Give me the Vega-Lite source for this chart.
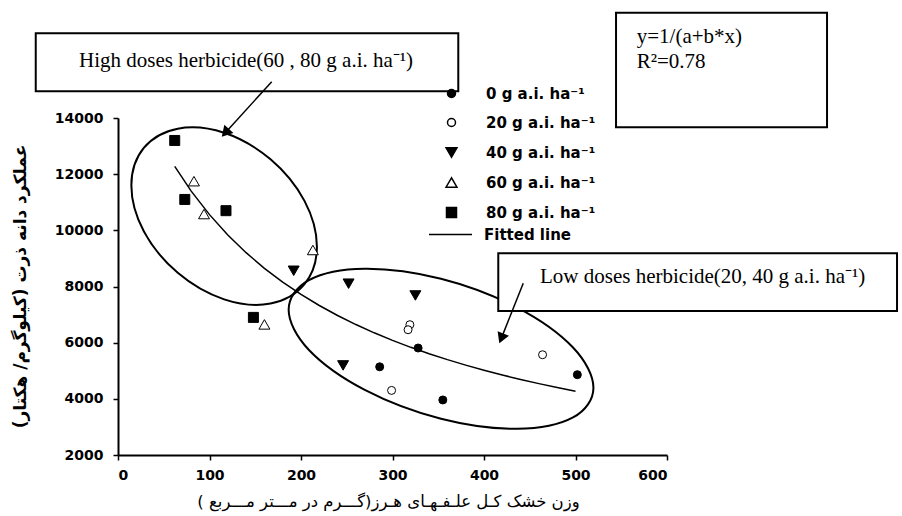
{
  "$schema": "https://vega.github.io/schema/vega-lite/v6.json",
  "width": 549,
  "height": 337,
  "autosize": {"type": "none"},
  "padding": {"left": 118, "top": 118, "right": 235, "bottom": 61},
  "background": "white",
  "config": {
    "view": {"stroke": null},
    "axis": {
      "grid": false,
      "domainColor": "black",
      "domainWidth": 2,
      "tickColor": "black",
      "tickWidth": 1.5,
      "tickSize": 5,
      "labelFont": "DejaVu Sans",
      "labelFontWeight": "bold",
      "labelFontSize": 14,
      "labelColor": "black",
      "titleColor": "black",
      "titleFont": "DejaVu Sans"
    },
    "legend": {
      "labelFont": "DejaVu Sans",
      "labelFontWeight": "bold",
      "labelFontSize": 15,
      "labelColor": "black"
    }
  },
  "datasets": {
    "pts": [
      {"dose": "0 g a.i. ha⁻¹", "weed": 328, "yield": 5810},
      {"dose": "0 g a.i. ha⁻¹", "weed": 286, "yield": 5140},
      {"dose": "0 g a.i. ha⁻¹", "weed": 355, "yield": 3960},
      {"dose": "0 g a.i. ha⁻¹", "weed": 502, "yield": 4860},
      {"dose": "20 g a.i. ha⁻¹", "weed": 319, "yield": 6640},
      {"dose": "20 g a.i. ha⁻¹", "weed": 317, "yield": 6460},
      {"dose": "20 g a.i. ha⁻¹", "weed": 299, "yield": 4300},
      {"dose": "20 g a.i. ha⁻¹", "weed": 464, "yield": 5570},
      {"dose": "40 g a.i. ha⁻¹", "weed": 192, "yield": 8560},
      {"dose": "40 g a.i. ha⁻¹", "weed": 252, "yield": 8100},
      {"dose": "40 g a.i. ha⁻¹", "weed": 325, "yield": 7680},
      {"dose": "40 g a.i. ha⁻¹", "weed": 246, "yield": 5190},
      {"dose": "60 g a.i. ha⁻¹", "weed": 83, "yield": 11750},
      {"dose": "60 g a.i. ha⁻¹", "weed": 94, "yield": 10580},
      {"dose": "60 g a.i. ha⁻¹", "weed": 213, "yield": 9300},
      {"dose": "60 g a.i. ha⁻¹", "weed": 160, "yield": 6650},
      {"dose": "80 g a.i. ha⁻¹", "weed": 62, "yield": 13200},
      {"dose": "80 g a.i. ha⁻¹", "weed": 73, "yield": 11100},
      {"dose": "80 g a.i. ha⁻¹", "weed": 118, "yield": 10700},
      {"dose": "80 g a.i. ha⁻¹", "weed": 148, "yield": 6900}
    ],
    "fit": [
      {"weed": 62, "yield": 12276}, {"weed": 80, "yield": 11397}, {"weed": 100, "yield": 10559},
      {"weed": 120, "yield": 9835}, {"weed": 140, "yield": 9204}, {"weed": 160, "yield": 8648},
      {"weed": 180, "yield": 8157}, {"weed": 200, "yield": 7718}, {"weed": 220, "yield": 7324},
      {"weed": 240, "yield": 6968}, {"weed": 260, "yield": 6645}, {"weed": 280, "yield": 6351},
      {"weed": 300, "yield": 6082}, {"weed": 320, "yield": 5834}, {"weed": 340, "yield": 5606},
      {"weed": 360, "yield": 5395}, {"weed": 380, "yield": 5200}, {"weed": 400, "yield": 5018},
      {"weed": 420, "yield": 4848}, {"weed": 440, "yield": 4690}, {"weed": 460, "yield": 4541},
      {"weed": 480, "yield": 4402}, {"weed": 500, "yield": 4271}
    ],
    "ellipses": [
      {"e": "high", "i": 0, "weed": 217.4, "yield": 9417},
      {"e": "high", "i": 1, "weed": 203.8, "yield": 8082},
      {"e": "high", "i": 2, "weed": 166.7, "yield": 7393},
      {"e": "high", "i": 3, "weed": 116.0, "yield": 7542},
      {"e": "high", "i": 4, "weed": 65.3, "yield": 8487},
      {"e": "high", "i": 5, "weed": 28.2, "yield": 9968},
      {"e": "high", "i": 6, "weed": 14.6, "yield": 11599},
      {"e": "high", "i": 7, "weed": 28.2, "yield": 12934},
      {"e": "high", "i": 8, "weed": 65.3, "yield": 13620},
      {"e": "high", "i": 9, "weed": 116.0, "yield": 13474},
      {"e": "high", "i": 10, "weed": 166.7, "yield": 12529},
      {"e": "high", "i": 11, "weed": 203.8, "yield": 11048},
      {"e": "low", "i": 0, "weed": 519.6, "yield": 4398},
      {"e": "low", "i": 1, "weed": 497.3, "yield": 3336},
      {"e": "low", "i": 2, "weed": 436.3, "yield": 2931},
      {"e": "low", "i": 3, "weed": 353.0, "yield": 3288},
      {"e": "low", "i": 4, "weed": 269.7, "yield": 4316},
      {"e": "low", "i": 5, "weed": 208.7, "yield": 5737},
      {"e": "low", "i": 6, "weed": 186.5, "yield": 7169},
      {"e": "low", "i": 7, "weed": 208.7, "yield": 8231},
      {"e": "low", "i": 8, "weed": 269.7, "yield": 8636},
      {"e": "low", "i": 9, "weed": 353.0, "yield": 8279},
      {"e": "low", "i": 10, "weed": 436.3, "yield": 7250},
      {"e": "low", "i": 11, "weed": 497.3, "yield": 5829}
    ],
    "boxes": [
      {"name": "high", "x1": -89.9, "x2": 371.9, "y1": 14951, "y2": 17016},
      {"name": "low", "x1": 415.6, "x2": 851.4, "y1": 7127, "y2": 9182},
      {"name": "eq", "x1": 544.3, "x2": 774.9, "y1": 13669, "y2": 17750}
    ],
    "arrows": [
      {"name": "high", "x1": 168.0, "y1": 15293, "x2": 117.3, "y2": 13473},
      {"name": "low", "x1": 442.9, "y1": 8114, "x2": 418.9, "y2": 6152}
    ],
    "notes": [
      {"label": "High doses herbicide(60 , 80 g a.i. ha⁻¹)", "weed": -42.6, "yield": 15816},
      {"label": "Low doses herbicide(20, 40 g a.i. ha⁻¹)", "weed": 461.2, "yield": 8114},
      {"label": "y=1/(a+b*x)", "weed": 566.9, "yield": 16660},
      {"label": "R²=0.78", "weed": 566.9, "yield": 15770}
    ]
  },
  "encoding": {
    "x": {
      "field": "weed", "type": "quantitative",
      "scale": {"domain": [0, 600], "nice": false, "zero": false},
      "axis": {
        "values": [0, 100, 200, 300, 400, 500, 600],
        "labelPadding": 8,
        "title": "وزن خشک کـل علـفـهـای هـرز(گـــرم در مـــتر مـــربع )",
        "titleFontWeight": "normal",
        "titleFontSize": 16.5,
        "titleX": 270,
        "titleY": 46,
        "titleAlign": "center",
        "titleBaseline": "middle"
      }
    },
    "y": {
      "field": "yield", "type": "quantitative",
      "scale": {"domain": [2000, 14000], "nice": false, "zero": false},
      "axis": {
        "values": [2000, 4000, 6000, 8000, 10000, 12000, 14000],
        "format": "d",
        "labelPadding": 10,
        "title": "عملکرد دانه ذرت (کیلوگرم/ هکتار)",
        "titleFontWeight": "bold",
        "titleFontSize": 17,
        "titleAngle": -90,
        "titleX": -98,
        "titleY": 168,
        "titleAlign": "center",
        "titleBaseline": "middle"
      }
    }
  },
  "layer": [
    {
      "data": {"name": "ellipses"},
      "mark": {"type": "line", "interpolate": "cardinal-closed", "color": "black", "strokeWidth": 2},
      "encoding": {
        "detail": {"field": "e", "type": "nominal"},
        "order": {"field": "i", "type": "quantitative"}
      }
    },
    {
      "data": {"name": "fit"},
      "mark": {"type": "line", "strokeWidth": 1.5},
      "encoding": {
        "stroke": {
          "datum": "Fitted line", "type": "nominal",
          "scale": {"domain": ["Fitted line"], "range": ["black"]},
          "legend": {
            "title": null,
            "orient": "none",
            "legendX": 310,
            "legendY": 94,
            "padding": 0,
            "labelOffset": 11,
            "symbolType": "stroke",
            "symbolSize": 1849,
            "symbolStrokeWidth": 1.5,
            "symbolStrokeColor": "black"
          }
        }
      }
    },
    {
      "data": {"name": "pts"},
      "mark": {"type": "point", "filled": true, "stroke": "black", "strokeWidth": 1, "opacity": 1},
      "encoding": {
        "shape": {
          "field": "dose", "type": "nominal",
          "scale": {
            "domain": ["0 g a.i. ha⁻¹", "20 g a.i. ha⁻¹", "40 g a.i. ha⁻¹", "60 g a.i. ha⁻¹", "80 g a.i. ha⁻¹"],
            "range": ["circle", "circle", "triangle-down", "triangle-up", "square"]
          },
          "legend": {
            "title": null,
            "orient": "none",
            "legendX": 326,
            "legendY": -32,
            "padding": 0,
            "rowPadding": 13,
            "labelOffset": 27,
            "encode": {"symbols": {"update": {"stroke": {"value": "black"}, "strokeWidth": {"value": 1.2}, "opacity": {"value": 1}}}}
          }
        },
        "fill": {
          "field": "dose", "type": "nominal",
          "scale": {
            "domain": ["0 g a.i. ha⁻¹", "20 g a.i. ha⁻¹", "40 g a.i. ha⁻¹", "60 g a.i. ha⁻¹", "80 g a.i. ha⁻¹"],
            "range": ["black", "white", "black", "white", "black"]
          },
          "legend": {
            "title": null,
            "orient": "none",
            "legendX": 326,
            "legendY": -32,
            "padding": 0,
            "rowPadding": 13,
            "labelOffset": 27,
            "encode": {"symbols": {"update": {"stroke": {"value": "black"}, "strokeWidth": {"value": 1.2}, "opacity": {"value": 1}}}}
          }
        },
        "size": {
          "field": "dose", "type": "nominal",
          "scale": {
            "type": "ordinal",
            "domain": ["0 g a.i. ha⁻¹", "20 g a.i. ha⁻¹", "40 g a.i. ha⁻¹", "60 g a.i. ha⁻¹", "80 g a.i. ha⁻¹"],
            "range": [64, 64, 120, 120, 100]
          },
          "legend": {
            "title": null,
            "orient": "none",
            "legendX": 326,
            "legendY": -32,
            "padding": 0,
            "rowPadding": 13,
            "labelOffset": 27,
            "encode": {"symbols": {"update": {"stroke": {"value": "black"}, "strokeWidth": {"value": 1.2}, "opacity": {"value": 1}}}}
          }
        }
      }
    },
    {
      "data": {"name": "boxes"},
      "mark": {"type": "rect", "fill": "white", "stroke": "black", "strokeWidth": 2},
      "encoding": {
        "x": {"field": "x1", "type": "quantitative"},
        "x2": {"field": "x2"},
        "y": {"field": "y1", "type": "quantitative"},
        "y2": {"field": "y2"}
      }
    },
    {
      "data": {"name": "arrows"},
      "mark": {"type": "rule", "color": "black", "strokeWidth": 1.5},
      "encoding": {
        "x": {"field": "x1", "type": "quantitative"},
        "y": {"field": "y1", "type": "quantitative"},
        "x2": {"field": "x2"},
        "y2": {"field": "y2"}
      }
    },
    {
      "data": {"name": "arrows"},
      "transform": [{"filter": "datum.name === 'high'"}],
      "mark": {"type": "point", "shape": "triangle-up", "filled": true, "color": "black", "size": 150, "angle": 222, "opacity": 1},
      "encoding": {
        "x": {"field": "x2", "type": "quantitative"},
        "y": {"field": "y2", "type": "quantitative"}
      }
    },
    {
      "data": {"name": "arrows"},
      "transform": [{"filter": "datum.name === 'low'"}],
      "mark": {"type": "point", "shape": "triangle-up", "filled": true, "color": "black", "size": 150, "angle": 202, "opacity": 1},
      "encoding": {
        "x": {"field": "x2", "type": "quantitative"},
        "y": {"field": "y2", "type": "quantitative"}
      }
    },
    {
      "data": {"name": "notes"},
      "mark": {"type": "text", "font": "Liberation Serif", "fontSize": 21, "align": "left", "baseline": "alphabetic", "color": "black"},
      "encoding": {
        "text": {"field": "label"}
      }
    }
  ]
}
